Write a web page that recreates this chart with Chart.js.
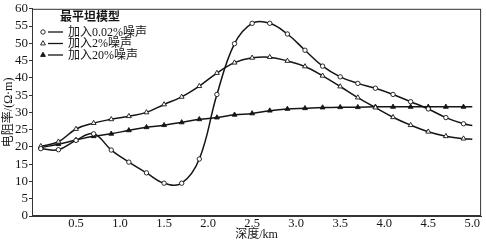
<!DOCTYPE html>
<html>
<head>
<meta charset="utf-8">
<script src="https://cdn.jsdelivr.net/npm/chart.js@4/dist/chart.umd.min.js"></script>
<style>
  html, body { margin: 0; padding: 0; background: #fff; }
  #wrap { width: 486px; height: 243px; }
</style>
</head>
<body>
<div id="wrap"><canvas id="myChart" width="486" height="243"></canvas></div>
<script>
// profundidad (km) y resistividad
const depth = [0.1, 0.3, 0.5, 0.7, 0.9, 1.1, 1.3, 1.5, 1.7, 1.9, 2.1, 2.3, 2.5, 2.7, 2.9,
               3.1, 3.3, 3.5, 3.7, 3.9, 4.1, 4.3, 4.5, 4.7, 4.9, 5.0];
const noise002 = [19.5, 19.2, 21.9, 23.8, 19.1, 15.6, 12.5, 9.5, 9.5, 16.5, 35.2, 49.9, 55.8, 55.8, 52.7,
                  48.0, 43.4, 40.3, 38.4, 37.0, 35.2, 33.1, 31.0, 28.5, 26.7, 26.2];
const noise2   = [20.2, 21.5, 25.2, 26.9, 28.0, 28.9, 30.0, 32.3, 34.5, 37.6, 41.4, 44.4, 45.8, 46.0, 44.9,
                  43.3, 40.6, 37.5, 34.3, 31.4, 28.6, 26.3, 24.4, 23.1, 22.4, 22.2];
const noise20  = [19.8, 20.8, 22.0, 23.1, 23.8, 24.8, 25.7, 26.3, 27.1, 28.0, 28.5, 29.3, 29.7, 30.5, 31.0,
                  31.2, 31.4, 31.5, 31.5, 31.6, 31.6, 31.6, 31.6, 31.6, 31.6, 31.6];
const etiquetas = ["加入0.02%噪声", "加入2%噪声", "加入20%噪声"];
const tituloLeyenda = "最平坦模型";
const xTicks = [0, 0.5, 1.0, 1.5, 2.0, 2.5, 3.0, 3.5, 4.0, 4.5, 5.0];
const yTicks = [0, 5, 10, 15, 20, 25, 30, 35, 40, 45, 50, 55, 60];

const fuente = "'Liberation Serif', 'Noto Sans CJK SC', serif";
const negro = '#151515';

function serie(valores, label, estilo, relleno, radio) {
    return {
        label: label,
        data: depth.map((d, i) => ({ x: d, y: valores[i] })),
        borderColor: negro,
        borderWidth: 1.5,
        tension: 0.4,
        pointStyle: estilo,
        pointRadius: (ctx) => ctx.dataIndex === depth.length - 1 ? 0 : radio,
        pointBorderWidth: 0.9,
        pointBorderColor: negro,
        pointBackgroundColor: relleno,
        _radio: radio
    };
}

// caja y leyenda dentro del area
const cajaLeyenda = {
    id: 'cajaLeyenda',
    afterDraw(chart) {
        const ctx = chart.ctx;
        const a = chart.chartArea;
        ctx.save();
        ctx.strokeStyle = '#333';
        ctx.lineWidth = 1;
        ctx.strokeRect(a.left + 0.5, a.top + 0.5, a.right - a.left - 1, a.bottom - a.top - 1);

        ctx.fillStyle = negro;
        ctx.textBaseline = 'middle';
        ctx.font = "bold 12px 'Noto Sans CJK SC'";
        ctx.fillText(tituloLeyenda, 60, 16);

        ctx.font = "12px " + fuente;
        const filas = [32, 43.5, 55];
        chart.data.datasets.forEach((ds, i) => {
            const y = filas[i];
            ctx.strokeStyle = negro;
            ctx.lineWidth = 1.3;
            ctx.beginPath();
            ctx.moveTo(48, y);
            ctx.lineTo(63, y);
            ctx.stroke();
            ctx.fillStyle = ds.pointBackgroundColor;
            ctx.strokeStyle = negro;
            ctx.lineWidth = 0.9;
            Chart.helpers.drawPoint(ctx, { pointStyle: ds.pointStyle, radius: ds._radio, rotation: 0, borderWidth: 0.9 }, 43, y);
            ctx.fillStyle = negro;
            ctx.fillText(ds.label, 68, y + 0.5);
        });
        ctx.restore();
    }
};

const grafica = document.getElementById('myChart').getContext('2d');
const myChart = new Chart(grafica, {
    type: 'line',
    data: {
        datasets: [
            serie(noise002, etiquetas[0], 'circle', '#fff', 2.2),
            serie(noise2, etiquetas[1], 'triangle', '#fff', 2.8),
            serie(noise20, etiquetas[2], 'triangle', negro, 2.8)
        ]
    },
    options: {
        responsive: false,
        animation: false,
        layout: { padding: { top: 5, right: 3, left: 0, bottom: 0 } },
        plugins: {
            legend: { display: false },
            tooltip: { enabled: false }
        },
        scales: {
            x: {
                type: 'linear',
                min: 0,
                max: 5.1,
                afterFit: (s) => { s.height = 27; },
                afterBuildTicks: (s) => { s.ticks = xTicks.map(v => ({ value: v })); },
                ticks: {
                    autoSkip: false,
                    maxRotation: 0,
                    padding: 0,
                    color: negro,
                    font: { family: fuente, size: 12.5 },
                    callback: (v) => v === 0 ? '' : Number(v).toFixed(1)
                },
                grid: { display: false, drawTicks: false },
                border: { display: true, color: '#333' },
                title: {
                    display: true,
                    text: '深度/km',
                    color: negro,
                    font: { family: fuente, size: 12 },
                    padding: { top: 0, bottom: 1 }
                }
            },
            y: {
                min: 0,
                max: 60,
                afterFit: (s) => { s.width = 32; },
                afterBuildTicks: (s) => { s.ticks = yTicks.map(v => ({ value: v })); },
                ticks: {
                    autoSkip: false,
                    padding: 1,
                    color: negro,
                    font: { family: fuente, size: 13 }
                },
                grid: { display: true, drawOnChartArea: false, drawTicks: true, tickLength: 3, color: '#333' },
                border: { display: true, color: '#333' },
                title: {
                    display: true,
                    text: '电阻率/(Ω·m)',
                    color: negro,
                    font: { family: fuente, size: 12 },
                    padding: { top: 2, bottom: 0 }
                }
            }
        }
    },
    plugins: [cajaLeyenda]
});
</script>
</body>
</html>
